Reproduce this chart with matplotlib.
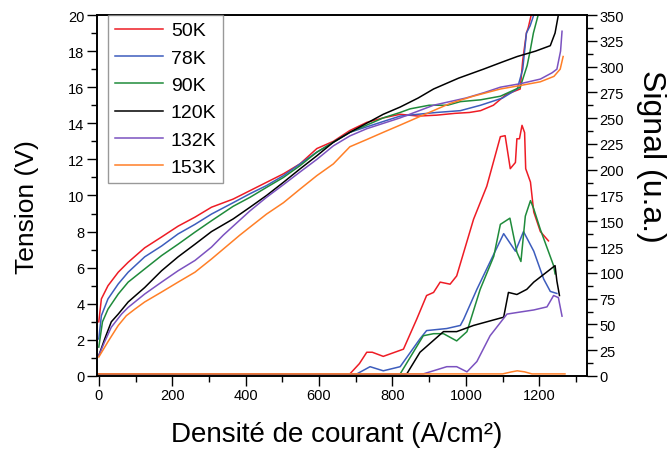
import numpy as np
import matplotlib.pyplot as plt
from matplotlib.ticker import MultipleLocator

plt.rcParams['font.family'] = ['Liberation Sans', 'DejaVu Sans']

labels = ['50K', '78K', '90K', '120K', '132K', '153K']
colors = ['#ee1c25', '#3d5dbd', '#1f8b3b', '#000000', '#7b52c0', '#ff7f27']

# tension (V) vs current density (A/cm2)
j_50 = [0, 7, 25, 53, 80, 125, 171, 216, 262, 307, 366, 412, 457, 503, 548, 594, 639, 684, 730, 775, 821, 870, 920, 970, 1010, 1040, 1075, 1110, 1148, 1155, 1165, 1170, 1178]
v_50 = [3.0, 4.27, 5.0, 5.75, 6.3, 7.1, 7.7, 8.3, 8.8, 9.35, 9.8, 10.27, 10.73, 11.2, 11.75, 12.6, 13.0, 13.6, 14.05, 14.3, 14.5, 14.4, 14.45, 14.55, 14.6, 14.7, 15.0, 15.6, 15.9, 17.5, 19.0, 19.3, 20.0]
j_78 = [0, 7, 25, 53, 80, 125, 171, 216, 262, 307, 366, 412, 457, 503, 548, 594, 684, 775, 821, 870, 920, 985, 1040, 1100, 1140, 1155, 1165, 1175, 1185]
v_78 = [2.05, 3.34, 4.27, 5.1, 5.75, 6.6, 7.2, 7.87, 8.4, 8.97, 9.6, 10.1, 10.55, 11.1, 11.75, 12.4, 13.5, 14.1, 14.4, 14.5, 14.6, 14.7, 15.0, 15.4, 15.9, 17.0, 19.0, 19.4, 20.0]
j_90 = [0, 10, 25, 53, 80, 125, 171, 216, 262, 307, 366, 412, 457, 503, 548, 594, 684, 730, 775, 821, 848, 900, 950, 985, 1040, 1094, 1148, 1167, 1175, 1184, 1197]
v_90 = [1.6, 3.0, 3.7, 4.54, 5.2, 5.93, 6.67, 7.3, 7.97, 8.6, 9.4, 9.9, 10.45, 11.0, 11.65, 12.4, 13.5, 13.9, 14.3, 14.6, 14.8, 15.0, 15.0, 15.2, 15.3, 15.5, 16.0, 17.2, 18.0, 19.0, 20.0]
j_120 = [0, 16, 34, 53, 80, 125, 171, 216, 262, 307, 366, 412, 457, 503, 548, 594, 639, 684, 775, 821, 870, 912, 980, 1048, 1100, 1140, 1190, 1230, 1243, 1252]
v_120 = [1.13, 2.05, 3.0, 3.43, 4.1, 4.9, 5.83, 6.6, 7.3, 8.0, 8.7, 9.35, 10.0, 10.73, 11.47, 12.2, 12.95, 13.5, 14.5, 14.9, 15.4, 15.9, 16.5, 17.0, 17.4, 17.7, 18.0, 18.3, 19.0, 20.0]
j_132 = [0, 16, 34, 62, 80, 125, 171, 216, 262, 307, 339, 366, 412, 457, 503, 548, 594, 639, 684, 730, 821, 912, 1000, 1050, 1094, 1150, 1203, 1235, 1248, 1258, 1262]
v_132 = [1.13, 1.9, 2.7, 3.43, 3.8, 4.54, 5.2, 5.83, 6.4, 7.14, 7.8, 8.3, 9.15, 9.9, 10.6, 11.3, 12.0, 12.75, 13.3, 13.7, 14.3, 15.0, 15.4, 15.7, 16.0, 16.2, 16.45, 16.8, 17.0, 18.0, 19.1]
j_153 = [0, 25, 53, 75, 98, 125, 171, 216, 262, 307, 384, 412, 457, 503, 548, 594, 639, 684, 730, 775, 821, 900, 957, 1020, 1094, 1150, 1203, 1240, 1257, 1265]
v_153 = [1.05, 1.9, 2.8, 3.34, 3.7, 4.1, 4.65, 5.2, 5.75, 6.48, 7.8, 8.25, 8.97, 9.6, 10.35, 11.1, 11.75, 12.7, 13.1, 13.5, 13.9, 14.6, 15.1, 15.5, 15.9, 16.1, 16.3, 16.6, 17.0, 17.7]

# signal (u.a.) vs current density
sj_50 = [0, 684, 710, 730, 745, 775, 830, 866, 893, 912, 930, 957, 975, 1021, 1057, 1094, 1107, 1121, 1135, 1139, 1146, 1153, 1160, 1163, 1176, 1185, 1203, 1225]
s_50 = [2, 2, 12, 23, 23, 19, 26, 55, 78, 81, 91, 89, 97, 152, 184, 232, 233, 201, 207, 230, 230, 243, 236, 201, 188, 159, 140, 131]
sj_78 = [0, 703, 739, 775, 821, 875, 893, 948, 985, 994, 1030, 1057, 1103, 1135, 1157, 1185, 1212, 1230, 1248]
s_78 = [2, 2, 9, 5, 9, 36, 44, 46, 49, 55, 84, 104, 138, 121, 140, 121, 94, 82, 80]
sj_90 = [0, 821, 884, 912, 939, 975, 1003, 1039, 1076, 1094, 1120, 1139, 1150, 1162, 1176, 1185, 1203, 1239, 1243]
s_90 = [2, 2, 39, 41, 41, 34, 43, 84, 116, 147, 153, 120, 111, 155, 170, 162, 142, 107, 99]
sj_120 = [0, 839, 875, 939, 975, 1021, 1103, 1116, 1139, 1166, 1185, 1243, 1248, 1255]
s_120 = [2, 2, 23, 43, 43, 49, 57, 81, 79, 84, 91, 107, 92, 78]
sj_132 = [0, 884, 948, 975, 1003, 1030, 1066, 1112, 1148, 1185, 1221, 1239, 1252, 1262]
s_132 = [2, 2, 9, 9, 4, 14, 39, 60, 62, 64, 67, 78, 76, 58]
sj_153 = [0, 1100, 1125, 1140, 1160, 1180, 1270]
s_153 = [2, 2, 4, 5, 4, 2, 2]

tension = [(j_50, v_50), (j_78, v_78), (j_90, v_90), (j_120, v_120), (j_132, v_132), (j_153, v_153)]
signal = [(sj_50, s_50), (sj_78, s_78), (sj_90, s_90), (sj_120, s_120), (sj_132, s_132), (sj_153, s_153)]

fig = plt.figure(figsize=(6.72, 4.52), dpi=100)
ax = fig.add_axes([0.1443, 0.166, 0.7292, 0.7986])
ax2 = ax.twinx()

handles = []
for (j, v), c, lab in zip(tension, colors, labels):
    h, = ax.plot(j, v, color=c, lw=1.1, label=lab)
    handles.append(h)
for (j, s), c in zip(signal, colors):
    ax2.plot(j, s, color=c, lw=1.1)

ax.set_xlim(-5, 1330)
ax.set_ylim(0, 20)
ax2.set_ylim(0, 350)

ax.xaxis.set_major_locator(MultipleLocator(200))
ax.xaxis.set_minor_locator(MultipleLocator(100))
ax.yaxis.set_major_locator(MultipleLocator(2))
ax.yaxis.set_minor_locator(MultipleLocator(1))
ax2.yaxis.set_major_locator(MultipleLocator(25))
ax2.yaxis.set_minor_locator(MultipleLocator(12.5))

ax.tick_params(which='major', length=7, width=1, labelsize=10.5, pad=2)
ax.tick_params(which='minor', length=4, width=1)
ax2.tick_params(which='major', length=7, width=1, labelsize=10.5, pad=2)
ax2.tick_params(which='minor', length=4, width=1)
for a in (ax, ax2):
    for sp in a.spines.values():
        sp.set_linewidth(1.2)

ax.set_xlabel('Densité de courant (A/cm²)', fontsize=20)
ax.xaxis.set_label_coords(0.489, -0.16)
ax.xaxis.label.set_va('center')
ax.set_ylabel('Tension (V)', fontsize=19)
ax.yaxis.set_label_coords(-0.143, 0.471)
ax.yaxis.label.set_va('center')
ax2.set_ylabel('Signal (u.a.)', fontsize=23, rotation=270)
ax2.yaxis.set_label_coords(1.13, 0.61)
ax2.yaxis.label.set_va('center')

leg = ax2.legend(handles=handles, loc='upper left', bbox_to_anchor=(0.022, 1.0),
                 fontsize=14, frameon=True, fancybox=False, edgecolor='#808080',
                 handlelength=2.5, handletextpad=0.4, labelspacing=0.5,
                 borderpad=0.35, borderaxespad=0.0)
leg.get_frame().set_linewidth(1.0)

fig.savefig('out.png', dpi=100)
